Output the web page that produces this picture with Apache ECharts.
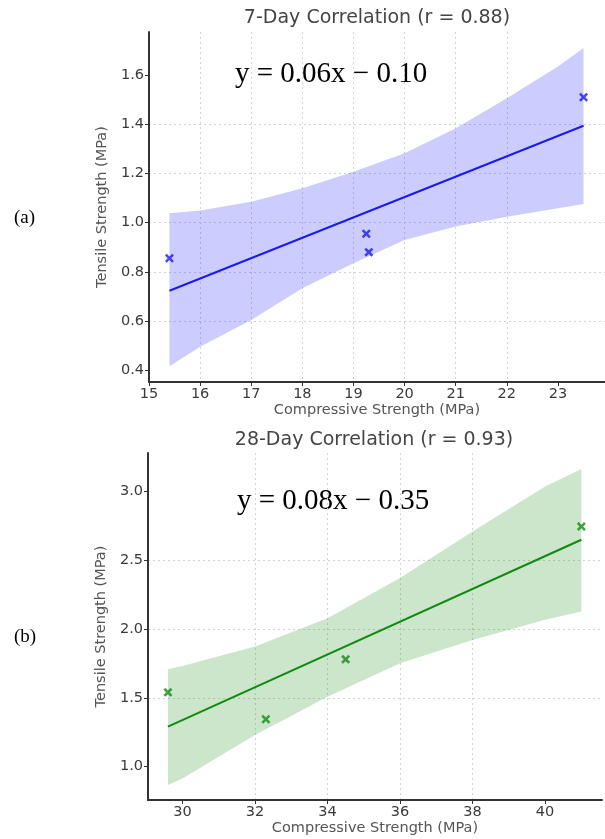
<!DOCTYPE html>
<html>
<head>
<meta charset="utf-8">
<script src="https://cdn.jsdelivr.net/npm/echarts@6/dist/echarts.min.js"></script>
<style>
  html, body { margin: 0; padding: 0; background: #fff; }
  #main { width: 605px; height: 839px; }
</style>
</head>
<body>
<div id="main"></div>
<script>
// (a) 7-day
const comp7 = [15.4, 19.25, 19.3, 23.5];
const tens7 = [0.855, 0.955, 0.88, 1.51];
const fitX7 = [15.4, 23.5];
const fitY7 = [0.723, 1.394];
const bandX7 = [15.4, 16, 17, 18, 19, 20, 21, 22, 23, 23.5];
const bandLo7 = [0.416, 0.495, 0.604, 0.733, 0.835, 0.929, 0.984, 1.024, 1.058, 1.076];
const bandHi7 = [1.038, 1.049, 1.085, 1.14, 1.207, 1.282, 1.384, 1.506, 1.635, 1.71];
const xTicks7 = [15, 16, 17, 18, 19, 20, 21, 22, 23];
const yTicks7 = [0.4, 0.6, 0.8, 1.0, 1.2, 1.4, 1.6];

// (b) 28-day
const comp28 = [29.6, 32.3, 34.5, 41];
const tens28 = [1.54, 1.345, 1.78, 2.745];
const fitX28 = [29.6, 41];
const fitY28 = [1.291, 2.649];
const bandX28 = [29.6, 30, 32, 34, 36, 38, 40, 41];
const bandLo28 = [0.867, 0.915, 1.23, 1.509, 1.752, 1.921, 2.067, 2.127];
const bandHi28 = [1.708, 1.732, 1.873, 2.079, 2.37, 2.709, 3.036, 3.163];
const xTicks28 = [30, 32, 34, 36, 38, 40];
const yTicks28 = [1.0, 1.5, 2.0, 2.5, 3.0];

const chart = echarts.init(document.getElementById('main'));

const crossPath = 'path://M2,0 L5,3 L8,0 L10,2 L7,5 L10,8 L8,10 L5,7 L2,10 L0,8 L3,5 L0,2 Z';
const axisDark = '#333';
const labelGray = '#3a3a3a';

function xAxisFor(gridIndex, min, max, step, ticks) {
  return {
    type: 'value', gridIndex, min, max,
    minInterval: step, maxInterval: step,
    name: 'Compressive Strength (MPa)',
    nameLocation: 'middle', nameGap: 20,
    nameTextStyle: { fontFamily: 'DejaVu Sans', fontSize: 14.5, color: '#555' },
    axisLine: { show: true, onZero: false, lineStyle: { color: axisDark, width: 2 } },
    axisTick: { show: true, length: 4, customValues: ticks, lineStyle: { color: axisDark } },
    axisLabel: {
      customValues: ticks, margin: 5,
      fontFamily: 'DejaVu Sans', fontSize: 14.5, color: labelGray,
      formatter: v => String(v)
    },
    splitLine: { show: true, showMinLine: false, showMaxLine: false,
      lineStyle: { color: '#d4d4d4', type: [2, 3], width: 1 } }
  };
}

function yAxisFor(gridIndex, min, max, step, ticks) {
  return {
    type: 'value', gridIndex, min, max,
    minInterval: step, maxInterval: step,
    name: 'Tensile Strength (MPa)',
    nameLocation: 'middle', nameGap: 34,
    nameTextStyle: { fontFamily: 'DejaVu Sans', fontSize: 14.5, color: '#555' },
    axisLine: { show: true, onZero: false, lineStyle: { color: axisDark, width: 2 } },
    axisTick: { show: true, length: 4, customValues: ticks, lineStyle: { color: axisDark } },
    axisLabel: {
      customValues: ticks, margin: 5,
      fontFamily: 'DejaVu Sans', fontSize: 14.5, color: labelGray,
      formatter: v => v.toFixed(1)
    },
    splitLine: { show: true, showMinLine: false, showMaxLine: false,
      lineStyle: { color: '#d4d4d4', type: [2, 3], width: 1 } }
  };
}

function bandSeries(idx, xs, lo, hi, fill) {
  return {
    type: 'custom', xAxisIndex: idx, yAxisIndex: idx, silent: true, z: 1,
    data: xs.map((x, i) => [x, lo[i], hi[i]]),
    encode: { x: 0, y: [1, 2] },
    renderItem: function (params, api) {
      if (params.dataIndex !== 0) return;
      const pts = [];
      for (let i = 0; i < xs.length; i++) pts.push(api.coord([xs[i], hi[i]]));
      for (let i = xs.length - 1; i >= 0; i--) pts.push(api.coord([xs[i], lo[i]]));
      return { type: 'polygon', shape: { points: pts }, style: { fill: fill } };
    }
  };
}

function fitSeries(idx, xs, ys, color) {
  return {
    type: 'line', xAxisIndex: idx, yAxisIndex: idx, z: 3,
    data: xs.map((x, i) => [x, ys[i]]),
    symbol: 'none', silent: true,
    lineStyle: { color: color, width: 2 }
  };
}

function pointSeries(idx, xs, ys, color) {
  return {
    type: 'scatter', xAxisIndex: idx, yAxisIndex: idx, z: 4,
    data: xs.map((x, i) => [x, ys[i]]),
    symbol: crossPath, symbolSize: 9,
    itemStyle: { color: color }
  };
}

function label(text, x, y, font, color) {
  return {
    type: 'text', x, y, silent: true,
    style: { text, font, fill: color, align: 'center', verticalAlign: 'middle',
      textAlign: 'center', textVerticalAlign: 'middle' }
  };
}

function leftLabel(text, x, y, font) {
  return {
    type: 'text', x, y, silent: true,
    style: { text, font, fill: '#000', align: 'left', verticalAlign: 'middle',
      textAlign: 'left', textVerticalAlign: 'middle' }
  };
}

chart.setOption({
  animation: false,
  backgroundColor: '#fff',
  grid: [
    { left: 149, top: 32, width: 456, height: 350 },
    { left: 148, top: 453, width: 454, height: 347 }
  ],
  xAxis: [
    xAxisFor(0, 15, 23.92, 1, xTicks7),
    xAxisFor(1, 29.05, 41.57, 2, xTicks28)
  ],
  yAxis: [
    yAxisFor(0, 0.352, 1.775, 0.2, yTicks7),
    yAxisFor(1, 0.758, 3.279, 0.5, yTicks28)
  ],
  series: [
    bandSeries(0, bandX7, bandLo7, bandHi7, 'rgba(0,0,255,0.2)'),
    fitSeries(0, fitX7, fitY7, '#1a1aee'),
    pointSeries(0, comp7, tens7, '#1a1aee'),
    bandSeries(1, bandX28, bandLo28, bandHi28, 'rgba(0,128,0,0.2)'),
    fitSeries(1, fitX28, fitY28, '#118a11'),
    pointSeries(1, comp28, tens28, '#118a11')
  ],
  graphic: [
    label('7-Day Correlation (r = 0.88)', 377, 18, '19px "DejaVu Sans"', '#444'),
    label('28-Day Correlation (r = 0.93)', 374, 440, '19px "DejaVu Sans"', '#444'),
    leftLabel('y = 0.06x \u2212 0.10', 235, 74, '29px "Liberation Serif"'),
    leftLabel('y = 0.08x \u2212 0.35', 237, 501, '29px "Liberation Serif"'),
    leftLabel('(a)', 14, 218, '19px "Liberation Serif"'),
    leftLabel('(b)', 14, 637, '19px "Liberation Serif"')
  ]
});
</script>
</body>
</html>
